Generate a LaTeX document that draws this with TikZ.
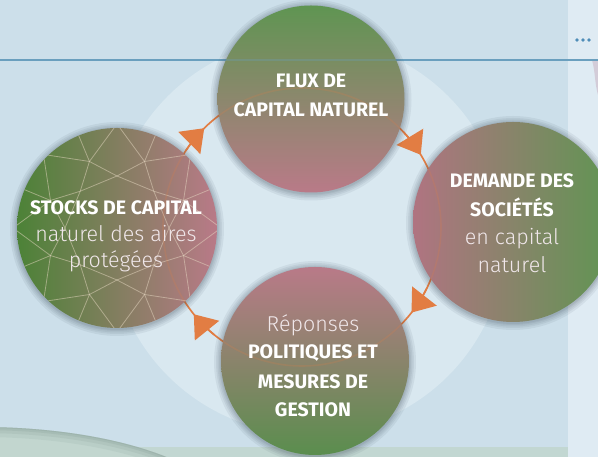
\documentclass[tikz,border=0pt]{standalone}
\usepackage{fontspec}
\setmainfont{Fira Sans}
\newfontfamily\lightfont{Fira Sans Light}
\usetikzlibrary{arrows.meta}

\definecolor{bgblue}{HTML}{CCDFEA}
\definecolor{paleblue}{HTML}{D9E8F0}
\definecolor{stripblue}{HTML}{DFEBF3}
\definecolor{rulecol}{HTML}{6A9FBE}
\definecolor{dotcol}{HTML}{4F8DB8}
\definecolor{ringorange}{HTML}{E27D43}
\definecolor{leafgreen}{HTML}{5F9552}
\definecolor{deepgreen}{HTML}{4C8237}
\definecolor{rosepink}{HTML}{B97A88}
\definecolor{softtext}{HTML}{F0E7EA}
\definecolor{bandgreen}{HTML}{C2D7D2}
\definecolor{hillgreen}{HTML}{C2D6CF}
\definecolor{hillrim}{HTML}{8CA39C}
\definecolor{facet}{HTML}{E6D8C2}
\definecolor{mauve}{HTML}{D3CCD8}
\definecolor{shadowcol}{HTML}{2E3D4A}

\tikzset{
  bubble/.style={circle, inner sep=0pt, outer sep=0pt, minimum size=#1},
  capsline/.style={font=\bfseries\fontsize{19.5}{20}\selectfont, text=white,
    anchor=base, inner sep=0pt},
  softline/.style={font=\lightfont\fontsize{21.5}{22}\selectfont, text=softtext,
    anchor=base, inner sep=0pt},
  ringline/.style={draw=ringorange, line width=1.6pt},
  flowtip/.style={ringline, -{Triangle[width=31pt,length=21pt,fill=ringorange]}},
  facetline/.style={draw=facet, line width=0.8pt, opacity=0.5},
  halo/.style={fill=shadowcol, opacity=0.07},
}

\begin{document}
\begin{tikzpicture}[x=1pt,y=1pt]
  \useasboundingbox (0,0) rectangle (598,457);

  % page background, side strip and rule
  \fill[bgblue] (0,0) rectangle (598,457);
  \fill[stripblue] (568,0) rectangle (598,457);
  \fill[mauve] (592,397) to[out=-75,in=105] (598,362) -- (598,397) -- cycle;
  \fill[bandgreen] (0,0) rectangle (568,10);

  % soft hill in the lower left corner, darker along its crest
  \begin{scope}
    \clip (-20,-60) ellipse[x radius=250pt, y radius=90pt];
    \fill[hillgreen] (-20,-60) ellipse[x radius=250pt, y radius=90pt];
    \foreach \w/\o in {20/0.15,12/0.2,6/0.25,2/0.3}
      \draw[hillrim, line width=\w pt, opacity=\o] (-20,-60) ellipse[x radius=250pt, y radius=90pt];
  \end{scope}

  % pale disc behind the cycle
  \fill[paleblue] (308,221) circle[radius=198pt];

  \draw[rulecol, line width=1.3pt] (0,397) -- (598,397);
  \foreach \dx in {577,583,589} \fill[dotcol] (\dx,417) circle[radius=1.9pt];

  % the cycle ring and its arrowheads
  \coordinate (ring) at (302,230);
  \draw[ringline] (ring) circle[radius=139pt];
  \foreach \a in {134.7,31.3,-38,218.9}
    \draw[flowtip] (ring) ++(\a+12:139pt) arc[start angle=\a+12, end angle=\a, radius=139pt];

  % soft shadows under the four discs
  \foreach \cx/\cy/\r in {311/358/93.5, 117/229/100, 513/235/100, 315/96/94}
    \foreach \d in {7,5,3.5,2,1}
      \fill[halo] (\cx,\cy-1) circle[radius=\r+\d];

  % the four stages
  \node[bubble=187pt, top color=leafgreen, bottom color=rosepink] (flux) at (311,358) {};
  \node[bubble=200pt, left color=deepgreen, right color=rosepink] (stocks) at (117,229) {};
  \node[bubble=200pt, left color=rosepink!95!black, right color=leafgreen] (demande) at (513,235) {};
  \node[bubble=188pt, top color=rosepink, bottom color=leafgreen!95!black] (reponses) at (315,96) {};

  % faceted gem drawn on the stock disc
  \begin{scope}[shift={(117,229)}]
    \clip (0,0) circle[radius=100pt];
    \foreach \k in {0,...,7}{
      \pgfmathsetmacro{\m}{67.5+45*\k}
      \draw[facetline] (\m:72pt) -- (\m:104pt);
      \draw[facetline] (\m-22.5:104pt) -- (\m:72pt) -- (\m+22.5:104pt);
      \draw[facetline] (\m-22.5:52pt) -- (\m:72pt) -- (\m+22.5:52pt);
      \draw[facetline] (\m+22.5:52pt) -- (\m+67.5:52pt);
    }
  \end{scope}

  % ring and rule seen faintly through the discs
  \draw[ringline, opacity=0.2] (ring) circle[radius=139pt];
  \draw[rulecol, line width=1.3pt, opacity=0.3] (0,397) -- (598,397);

  % labels
  \node[capsline] (flux-a) at (311,369) {FLUX DE};
  \node[capsline] (flux-b) at (311,340) {CAPITAL NATUREL};

  \node[capsline] (stocks-a) at (116,242) {STOCKS DE CAPITAL};
  \node[softline] (stocks-b) at (116,215) {naturel des aires};
  \node[softline] (stocks-c) at (116,189) {protégées};

  \node[capsline] (demande-a) at (512,269) {DEMANDE DES};
  \node[capsline] (demande-b) at (512,240) {SOCIÉTÉS};
  \node[softline] (demande-c) at (512,212) {en capital};
  \node[softline] (demande-d) at (512,184) {naturel};

  \node[softline] (reponses-a) at (313,125) {Réponses};
  \node[capsline] (reponses-b) at (313,98) {POLITIQUES ET};
  \node[capsline] (reponses-c) at (313,68) {MESURES DE};
  \node[capsline] (reponses-d) at (313,40) {GESTION};
\end{tikzpicture}
\end{document}
